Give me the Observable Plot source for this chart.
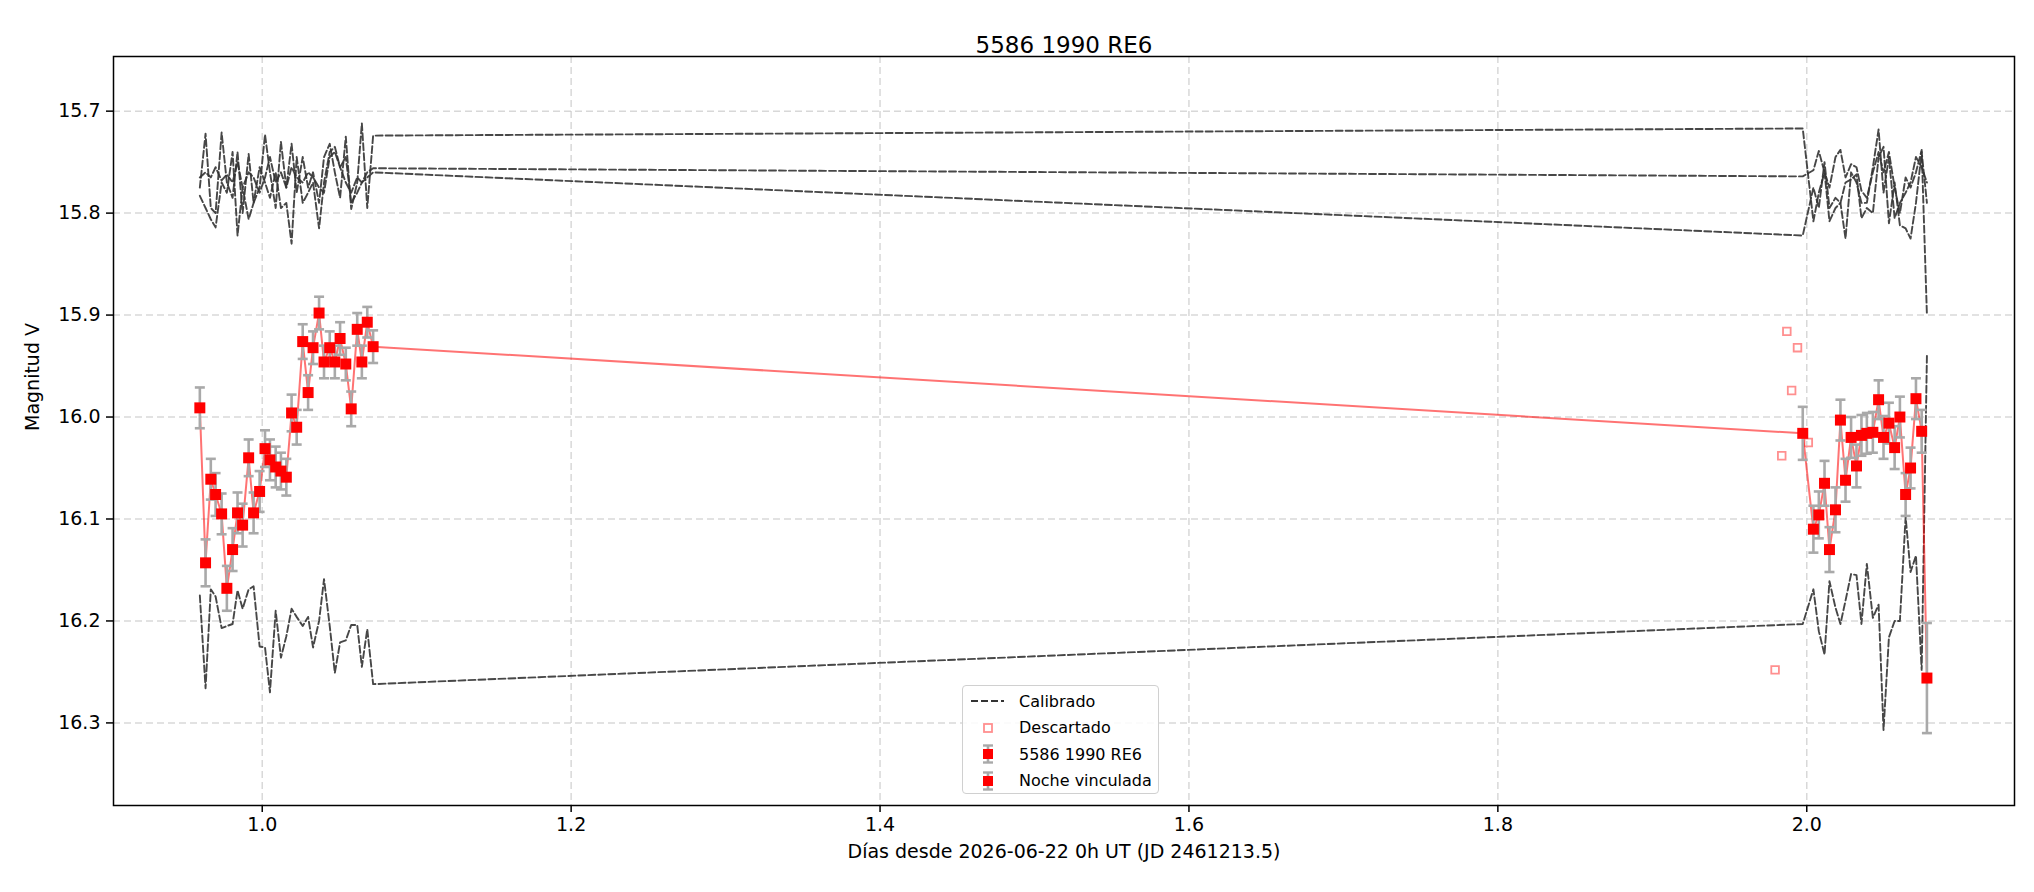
<!DOCTYPE html>
<html>
<head>
<meta charset="utf-8">
<script src="https://cdn.jsdelivr.net/npm/d3@7"></script>
<script src="https://cdn.jsdelivr.net/npm/@observablehq/plot@0.6"></script>
<style>
  html, body { margin: 0; padding: 0; background: white; }
  #wrap { position: relative; width: 2034px; height: 892px; font-family: "DejaVu Sans", sans-serif; }
  #legend { position: absolute; left: 962px; top: 685px; width: 197px; height: 109px;
    border: 1.5px solid #d0d0d0; border-radius: 4px; background: rgba(255,255,255,0.85); box-sizing: border-box; }
  .row { position: absolute; left: 0; height: 26px; display: flex; align-items: center; font-size: 16px; color: #000; }
  .row svg { width: 52px; height: 26px; flex: none; }
  .row span { margin-left: 4px; white-space: nowrap; }
</style>
</head>
<body>
<div id="wrap"></div>
<script>
// ---- Data ----
const titleText = "5586 1990 RE6";
const xLabel = "Días desde 2026-06-22 0h UT (JD 2461213.5)";
const yLabel = "Magnitud V";
const xTicks = [1.0, 1.2, 1.4, 1.6, 1.8, 2.0];
const yTicks = [15.7, 15.8, 15.9, 16.0, 16.1, 16.2, 16.3];

// target, first night
const tLeft = [0.9596, 0.9633, 0.9667, 0.9698, 0.9737, 0.9771, 0.9808, 0.9840, 0.9873, 0.9912, 0.9944,
  0.9983, 1.0018, 1.0050, 1.0087, 1.0121, 1.0156, 1.0190, 1.0223, 1.0262, 1.0297, 1.0329, 1.0368,
  1.0400, 1.0437, 1.0470, 1.0504, 1.0541, 1.0576, 1.0615, 1.0645, 1.0680, 1.0718];
const magLeft = [15.991, 16.143, 16.061, 16.076, 16.095, 16.168, 16.130, 16.094, 16.106, 16.040, 16.094,
  16.073, 16.031, 16.042, 16.049, 16.053, 16.059, 15.996, 16.010, 15.926, 15.976, 15.932, 15.898,
  15.946, 15.932, 15.946, 15.923, 15.948, 15.992, 15.914, 15.946, 15.907, 15.931];
const errLeft = [0.020, 0.023, 0.020, 0.021, 0.020, 0.022, 0.021, 0.020, 0.021, 0.018, 0.020,
  0.020, 0.018, 0.020, 0.020, 0.018, 0.018, 0.018, 0.017, 0.017, 0.017, 0.016, 0.016,
  0.016, 0.016, 0.016, 0.016, 0.016, 0.017, 0.016, 0.016, 0.015, 0.016];

// target, second night
const tRight = [1.9974, 2.0043, 2.0078, 2.0115, 2.0147, 2.0186, 2.0218, 2.0251, 2.0287, 2.0322, 2.0354,
  2.0389, 2.0428, 2.0465, 2.0497, 2.0532, 2.0569, 2.0603, 2.0640, 2.0672, 2.0707, 2.0744, 2.0778];
const magRight = [16.016, 16.110, 16.096, 16.065, 16.130, 16.091, 16.003, 16.062, 16.020, 16.048, 16.018,
  16.016, 16.015, 15.983, 16.020, 16.006, 16.030, 16.000, 16.076, 16.050, 15.982, 16.014, 16.256];
const errRight = [0.026, 0.023, 0.023, 0.022, 0.022, 0.022, 0.020, 0.021, 0.020, 0.021, 0.020,
  0.020, 0.020, 0.019, 0.021, 0.020, 0.021, 0.020, 0.021, 0.020, 0.020, 0.021, 0.054];

// discarded points
const discT = [1.9795, 1.9838, 1.9871, 1.9902, 1.9940, 2.0010];
const discMag = [16.248, 16.038, 15.916, 15.974, 15.932, 16.025];

// calibrated comparison stars (one value per frame of tLeft + tRight)
const compA = [15.775, 15.722, 15.795, 15.800, 15.721, 15.770, 15.785, 15.740, 15.800, 15.742, 15.790,
  15.775, 15.723, 15.760, 15.795, 15.730, 15.775, 15.732, 15.780, 15.745, 15.775, 15.760, 15.790,
  15.745, 15.732, 15.760, 15.785, 15.725, 15.796, 15.770, 15.712, 15.795, 15.724,
  15.717, 15.808, 15.780, 15.760, 15.808, 15.795, 15.790, 15.825, 15.760, 15.770, 15.790,
  15.790, 15.755, 15.718, 15.780, 15.745, 15.805, 15.790, 15.780, 15.770, 15.745, 15.755, 15.770];
const compB = [15.765, 15.760, 15.765, 15.755, 15.768, 15.762, 15.770, 15.750, 15.775, 15.760, 15.765,
  15.780, 15.765, 15.745, 15.770, 15.760, 15.775, 15.755, 15.765, 15.770, 15.760, 15.765, 15.775,
  15.780, 15.745, 15.740, 15.755, 15.770, 15.780, 15.765, 15.770, 15.760, 15.756,
  15.764, 15.758, 15.739, 15.760, 15.775, 15.745, 15.738, 15.765, 15.752, 15.755, 15.778,
  15.785, 15.760, 15.740, 15.760, 15.740, 15.775, 15.800, 15.765, 15.775, 15.760, 15.738, 15.900];
const compC = [15.783, 15.795, 15.806, 15.814, 15.770, 15.780, 15.740, 15.822, 15.775, 15.806, 15.790,
  15.755, 15.770, 15.785, 15.760, 15.795, 15.790, 15.830, 15.745, 15.790, 15.780, 15.770, 15.815,
  15.770, 15.740, 15.735, 15.755, 15.745, 15.790, 15.780, 15.770, 15.765, 15.760,
  15.822, 15.775, 15.795, 15.750, 15.795, 15.785, 15.790, 15.770, 15.767, 15.762, 15.805,
  15.795, 15.800, 15.745, 15.735, 15.810, 15.770, 15.812, 15.815, 15.825, 15.790, 15.740, 15.790];
const compD = [16.175, 16.266, 16.169, 16.176, 16.207, 16.205, 16.203, 16.170, 16.188, 16.169, 16.166,
  16.225, 16.226, 16.270, 16.190, 16.236, 16.215, 16.188, 16.196, 16.205, 16.196, 16.226, 16.200,
  16.159, 16.205, 16.251, 16.221, 16.219, 16.204, 16.204, 16.245, 16.208, 16.262,
  16.203, 16.169, 16.210, 16.233, 16.161, 16.187, 16.203, 16.180, 16.154, 16.155, 16.203,
  16.144, 16.197, 16.184, 16.307, 16.216, 16.200, 16.200, 16.098, 16.152, 16.136, 16.248, 15.940];

// ---- Build tables ----
const frames = tLeft.concat(tRight);
const comps = [compA, compB, compC, compD].flatMap((arr, k) => arr.map((v, i) => ({t: frames[i], m: v, star: k})));
const target = tLeft.map((t, i) => ({t, m: magLeft[i], e: errLeft[i]}))
  .concat(tRight.map((t, i) => ({t, m: magRight[i], e: errRight[i]})));
const discarded = discT.map((t, i) => ({t, m: discMag[i]}));

const capSymbol = { draw(ctx, size) { const w = 5; ctx.moveTo(-w, 0); ctx.lineTo(w, 0); } };

const chart = Plot.plot({
  width: 2034, height: 892,
  marginLeft: 113, marginRight: 20, marginTop: 56, marginBottom: 87,
  style: {fontFamily: "DejaVu Sans", fontSize: "19px", background: "white", color: "black"},
  x: {domain: [0.9037, 2.1345]},
  y: {domain: [15.6464, 16.381], reverse: true},
  marks: [
    Plot.gridX(xTicks, {stroke: "#c8c8c8", strokeOpacity: 0.7, strokeWidth: 1.5, strokeDasharray: "7,4"}),
    Plot.gridY(yTicks, {stroke: "#c8c8c8", strokeOpacity: 0.7, strokeWidth: 1.5, strokeDasharray: "7,4"}),
    Plot.line(comps, {x: "t", y: "m", z: "star", stroke: "#333", strokeOpacity: 0.9, strokeWidth: 1.9, strokeDasharray: "7,3"}),
    Plot.dot(discarded, {x: "t", y: "m", symbol: "square", r: 4.3, fill: "none", stroke: "#ff8f8f", strokeWidth: 1.8}),
    Plot.line(target, {x: "t", y: "m", stroke: "#ff0000", strokeOpacity: 0.55, strokeWidth: 2}),
    Plot.ruleX(target, {x: "t", y1: d => d.m - d.e, y2: d => d.m + d.e, stroke: "#a9a9a9", strokeWidth: 2.6}),
    Plot.dot(target, {x: "t", y: d => d.m - d.e, symbol: capSymbol, stroke: "#a9a9a9", strokeWidth: 2.6, r: 3}),
    Plot.dot(target, {x: "t", y: d => d.m + d.e, symbol: capSymbol, stroke: "#a9a9a9", strokeWidth: 2.6, r: 3}),
    Plot.dot(target, {x: "t", y: "m", symbol: "square", r: 6.2, fill: "#ff0000", stroke: "none"}),
    Plot.frame({stroke: "#000", strokeWidth: 1.5}),
    Plot.axisX({ticks: xTicks, tickFormat: d3.format(".1f"), tickSize: 7, tickPadding: 5, fontSize: 19, label: null, strokeWidth: 1.5}),
    Plot.axisY({ticks: yTicks, tickFormat: d3.format(".1f"), tickSize: 7, tickPadding: 6, fontSize: 19, label: null, strokeWidth: 1.5}),
    Plot.text([titleText], {frameAnchor: "top", dy: -20, fontSize: 23}),
    Plot.text([xLabel], {frameAnchor: "bottom", dy: 52, fontSize: 19}),
    Plot.text([yLabel], {frameAnchor: "left", dx: -81, rotate: -90, fontSize: 19})
  ]
});

const wrap = document.getElementById("wrap");
wrap.appendChild(chart);

// ---- Legend ----
const legendItems = [
  {label: "Calibrado", kind: "dash"},
  {label: "Descartado", kind: "open"},
  {label: titleText, kind: "err"},
  {label: "Noche vinculada", kind: "err"}
];
const legend = document.createElement("div");
legend.id = "legend";
legendItems.forEach((it, i) => {
  const row = document.createElement("div");
  row.className = "row";
  row.style.top = (2 + i * 26.5) + "px";
  let icon = "";
  if (it.kind === "dash") icon = '<line x1="8" x2="41" y1="13" y2="13" stroke="#333" stroke-width="1.9" stroke-dasharray="7,3"/>';
  else if (it.kind === "open") icon = '<rect x="21" y="9" width="8" height="8" fill="none" stroke="#ff8f8f" stroke-width="1.8"/>';
  else icon = '<line x1="25" x2="25" y1="4" y2="22" stroke="#a9a9a9" stroke-width="2.6"/>' +
    '<line x1="20" x2="30" y1="4.5" y2="4.5" stroke="#a9a9a9" stroke-width="2.4"/>' +
    '<line x1="20" x2="30" y1="21.5" y2="21.5" stroke="#a9a9a9" stroke-width="2.4"/>' +
    '<rect x="20" y="8" width="10" height="10" fill="#ff0000"/>';
  row.innerHTML = '<svg viewBox="0 0 52 26">' + icon + '</svg><span>' + it.label + '</span>';
  legend.appendChild(row);
});
wrap.appendChild(legend);
</script>
</body>
</html>
